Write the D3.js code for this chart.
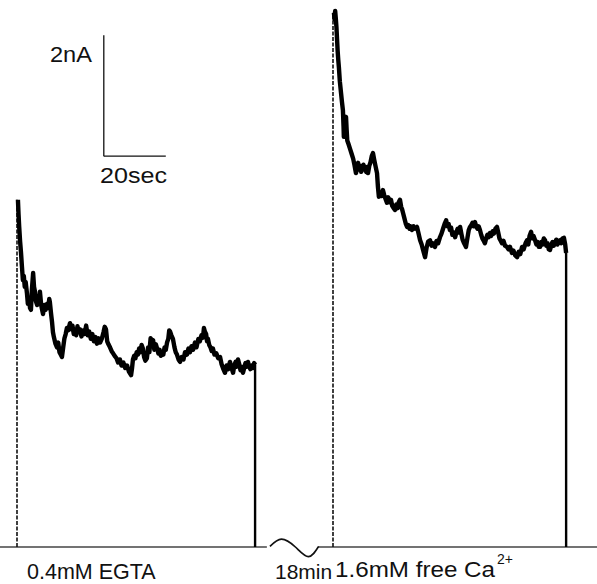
<!DOCTYPE html>
<html>
<head>
<meta charset="utf-8">
<script src="https://cdn.jsdelivr.net/npm/d3@7"></script>
<style>
  body { margin: 0; background: #fff; }
  svg { display: block; }
  text { font-family: "Liberation Sans", Arial, sans-serif; fill: #111; }
</style>
</head>
<body>
<svg id="chart" width="597" height="584"></svg>
<script>
// current traces: time in sec from onset, current in nA above baseline
const egtaTime = [0.3, 0.5, 0.7, 1.0, 1.3, 1.6, 1.9, 2.2, 2.5, 2.8, 3.2, 3.5, 3.9, 4.2, 4.5, 4.8, 5.2, 5.5, 5.8, 6.1, 6.5, 6.8, 7.1, 7.4, 7.8, 8.1, 8.4, 8.8, 9.2, 9.7, 10.1, 10.4, 10.6, 11.0, 11.3, 11.6, 11.9, 12.4, 12.9, 13.3, 13.7, 14.1, 14.5, 14.9, 15.3, 15.7, 16.1, 16.5, 17.1, 17.5, 17.9, 18.3, 18.7, 19.1, 19.5, 19.9, 20.3, 20.8, 21.3, 21.8, 22.3, 22.8, 23.3, 23.8, 24.3, 24.8, 25.3, 25.8, 26.3, 26.8, 27.4, 27.9, 28.3, 28.7, 29.1, 29.5, 30.0, 30.5, 31.0, 31.5, 32.1, 32.6, 33.2, 33.7, 34.3, 34.9, 35.5, 36.1, 36.8, 37.1, 37.4, 37.8, 38.2, 38.6, 39.0, 39.4, 39.8, 40.2, 40.6, 41.0, 41.4, 41.9, 42.3, 42.7, 43.1, 43.5, 43.9, 44.3, 44.8, 45.2, 45.6, 46.0, 46.4, 46.8, 47.2, 47.6, 48.0, 48.4, 48.8, 49.1, 49.4, 49.8, 50.3, 50.8, 51.2, 51.6, 52.1, 52.6, 53.1, 53.7, 54.2, 54.8, 55.3, 55.8, 56.3, 56.8, 57.4, 57.9, 58.5, 59.0, 59.5, 60.0, 60.3, 60.6, 61.0, 61.3, 61.6, 62.0, 62.4, 62.8, 63.2, 63.7, 64.3, 64.9, 65.5, 66.0, 66.5, 67.1, 67.6, 68.1, 68.7, 69.2, 69.7, 70.1, 70.5, 70.9, 71.3, 71.7, 72.1, 72.5, 72.9, 73.3, 73.7, 74.1, 74.5, 74.9, 75.3, 75.7, 76.1, 76.5, 76.8];
const egtaCurrent = [5.74, 5.50, 5.30, 5.05, 4.86, 4.63, 4.41, 4.48, 4.30, 4.38, 4.20, 4.02, 4.10, 3.95, 3.92, 4.25, 4.53, 4.30, 4.22, 4.06, 4.00, 4.15, 4.05, 4.22, 4.00, 3.92, 3.85, 4.00, 3.92, 4.02, 3.95, 4.10, 4.05, 3.85, 3.72, 3.55, 3.47, 3.36, 3.30, 3.38, 3.22, 3.18, 3.14, 3.30, 3.45, 3.52, 3.62, 3.58, 3.70, 3.60, 3.66, 3.52, 3.58, 3.50, 3.65, 3.55, 3.60, 3.48, 3.58, 3.52, 3.66, 3.50, 3.56, 3.44, 3.52, 3.40, 3.47, 3.36, 3.45, 3.38, 3.45, 3.55, 3.64, 3.60, 3.40, 3.35, 3.30, 3.24, 3.20, 3.16, 3.12, 3.05, 3.10, 3.00, 3.05, 2.96, 3.00, 2.90, 2.84, 2.95, 3.10, 3.16, 3.12, 3.22, 3.18, 3.28, 3.22, 3.34, 3.28, 3.14, 3.08, 3.12, 3.30, 3.22, 3.45, 3.38, 3.42, 3.26, 3.35, 3.28, 3.20, 3.26, 3.16, 3.22, 3.18, 3.30, 3.26, 3.38, 3.44, 3.58, 3.56, 3.50, 3.44, 3.30, 3.22, 3.18, 3.10, 3.06, 3.14, 3.10, 3.22, 3.18, 3.28, 3.22, 3.32, 3.26, 3.38, 3.30, 3.44, 3.40, 3.50, 3.46, 3.62, 3.56, 3.52, 3.40, 3.44, 3.34, 3.30, 3.24, 3.28, 3.18, 3.20, 3.12, 3.14, 3.02, 2.95, 2.88, 3.00, 2.94, 3.06, 2.96, 2.88, 3.00, 3.06, 2.98, 3.10, 3.02, 2.92, 2.98, 2.88, 2.96, 3.04, 2.98, 3.06, 2.98, 2.94, 3.00, 2.96, 3.04, 3.01];

const caTime = [0.3, 0.5, 0.7, 0.9, 1.1, 1.3, 1.5, 1.7, 1.9, 2.2, 2.6, 2.9, 3.2, 3.4, 3.5, 3.8, 4.0, 4.2, 4.4, 4.6, 5.0, 5.5, 6.0, 6.5, 6.9, 7.4, 7.8, 8.1, 8.5, 8.8, 9.1, 9.4, 9.8, 10.3, 10.7, 11.0, 11.3, 11.7, 12.1, 12.5, 12.9, 13.3, 13.7, 14.2, 14.5, 14.8, 15.2, 15.6, 16.1, 16.5, 16.9, 17.4, 17.8, 18.2, 18.7, 19.1, 19.6, 20.0, 20.4, 20.8, 21.2, 21.6, 22.0, 22.3, 22.6, 23.0, 23.5, 23.9, 24.3, 24.7, 25.1, 25.5, 26.0, 26.5, 27.1, 27.6, 28.1, 28.6, 29.1, 29.7, 30.2, 30.7, 31.3, 31.8, 32.3, 32.9, 33.4, 33.9, 34.5, 35.0, 35.5, 36.0, 36.5, 36.9, 37.3, 37.7, 38.1, 38.5, 38.9, 39.4, 39.8, 40.2, 40.6, 41.0, 41.4, 41.8, 42.3, 42.9, 43.4, 43.8, 44.2, 44.6, 45.0, 45.4, 45.8, 46.2, 46.6, 47.0, 47.4, 47.8, 48.2, 48.6, 49.0, 49.4, 49.8, 50.2, 50.6, 51.0, 51.5, 51.9, 52.4, 52.9, 53.3, 53.7, 54.1, 54.5, 55.0, 55.5, 56.1, 56.6, 57.1, 57.7, 58.2, 58.8, 59.4, 59.9, 60.4, 61.0, 61.5, 62.1, 62.6, 63.0, 63.4, 63.9, 64.3, 64.7, 65.2, 65.6, 66.0, 66.4, 66.8, 67.2, 67.6, 68.0, 68.4, 68.8, 69.2, 69.6, 70.0, 70.4, 70.8, 71.2, 71.6, 72.0, 72.4, 72.8, 73.2, 73.6, 74.0, 74.5, 74.9, 75.2];
const caCurrent = [8.83, 8.72, 8.86, 8.74, 8.60, 8.40, 8.20, 8.05, 7.93, 7.70, 7.50, 7.35, 7.22, 6.95, 6.78, 6.95, 7.05, 7.11, 6.90, 6.72, 6.66, 6.58, 6.50, 6.42, 6.32, 6.18, 6.26, 6.35, 6.24, 6.30, 6.20, 6.25, 6.32, 6.26, 6.20, 6.28, 6.18, 6.30, 6.36, 6.46, 6.51, 6.40, 6.30, 6.18, 5.95, 5.79, 5.86, 5.80, 5.90, 5.82, 5.76, 5.69, 5.78, 5.70, 5.74, 5.64, 5.60, 5.57, 5.66, 5.60, 5.70, 5.74, 5.62, 5.58, 5.52, 5.44, 5.34, 5.29, 5.32, 5.26, 5.30, 5.24, 5.30, 5.26, 5.29, 5.18, 5.07, 5.00, 4.90, 4.79, 4.95, 5.05, 5.07, 4.98, 5.02, 4.96, 5.06, 5.02, 5.12, 5.18, 5.26, 5.34, 5.40, 5.30, 5.34, 5.24, 5.28, 5.16, 5.20, 5.12, 5.20, 5.26, 5.20, 5.29, 5.18, 5.08, 5.02, 4.96, 5.12, 5.24, 5.29, 5.32, 5.36, 5.30, 5.37, 5.30, 5.26, 5.30, 5.24, 5.16, 5.10, 5.06, 5.02, 5.10, 5.16, 5.12, 5.19, 5.14, 5.22, 5.18, 5.26, 5.29, 5.20, 5.10, 5.06, 5.02, 5.06, 4.98, 4.96, 4.92, 4.96, 4.86, 4.90, 4.82, 4.79, 4.88, 4.84, 4.96, 4.92, 5.02, 5.07, 5.00, 5.14, 5.21, 5.10, 5.14, 5.07, 5.00, 5.04, 4.96, 4.96, 5.04, 5.00, 5.10, 5.07, 4.98, 5.02, 4.92, 4.91, 4.98, 5.04, 4.98, 5.02, 5.08, 5.00, 5.06, 5.07, 5.02, 5.10, 5.11, 5.00, 4.86];

const labels = ["0.4mM EGTA", "1.6mM free Ca", "2+"];
const gapLabel = "18min";
const scaleBar = { sec: 20, nA: 2 };

const svg = d3.select("#chart");

// shared current scale, one time scale per recording
const y = d3.scaleLinear().domain([0, 9]).range([547, 2.5]);
const xEgta = d3.scaleLinear().domain([0, 80]).range([17, 17 + 80 * 3.1]);
const xCa = d3.scaleLinear().domain([0, 80]).range([333, 333 + 80 * 3.1]);

// baseline pieces
const base = svg.append("g").attr("stroke", "#444").attr("stroke-width", 1.4).attr("fill", "none");
base.append("line").attr("x1", xEgta(-5.5)).attr("x2", xEgta(80.6)).attr("y1", y(0)).attr("y2", y(0));
base.append("line").attr("x1", xCa(-4.8)).attr("x2", xCa(85.2)).attr("y1", y(0)).attr("y2", y(0));

// break symbol between the two recordings
const wave = [[81.6, 0.01], [85.3, 0.13], [89.8, 0.0], [94.0, -0.16], [97.3, 0.01]];
base.append("path")
  .attr("stroke", "#111")
  .attr("stroke-width", 1.7)
  .attr("d", d3.line().x(d => xEgta(d[0])).y(d => y(d[1])).curve(d3.curveNatural)(wave));

function drawTrace(times, vals, x) {
  const pts = times.map((t, i) => [t, vals[i]]);
  const g = svg.append("g");
  // onset edge, dotted
  g.append("line")
    .attr("x1", x(0)).attr("x2", x(0))
    .attr("y1", y(0)).attr("y2", y(vals[0]))
    .attr("stroke", "#111").attr("stroke-width", 1.6)
    .attr("stroke-dasharray", "4,1.5");
  g.append("path")
    .attr("fill", "none")
    .attr("stroke", "#000")
    .attr("stroke-width", 4.4)
    .attr("stroke-linejoin", "round")
    .attr("d", d3.line().x(d => x(d[0])).y(d => y(d[1]))(pts));
  // offset edge
  const last = pts[pts.length - 1];
  g.append("line")
    .attr("x1", x(last[0])).attr("x2", x(last[0]))
    .attr("y1", y(last[1])).attr("y2", y(0))
    .attr("stroke", "#000").attr("stroke-width", 2.4);
}

drawTrace(egtaTime, egtaCurrent, xEgta);
drawTrace(caTime, caCurrent, xCa);

// scale bar
const sbX = xEgta(28), sbY = y(6.46);
const sb = svg.append("g").attr("stroke", "#111").attr("stroke-width", 1.3);
sb.append("line").attr("x1", sbX).attr("x2", sbX).attr("y1", sbY).attr("y2", y(6.46 + scaleBar.nA));
sb.append("line").attr("x1", sbX).attr("x2", xEgta(28 + scaleBar.sec)).attr("y1", sbY).attr("y2", sbY);

svg.append("text").attr("x", 50).attr("y", 62).attr("font-size", 22)
  .attr("textLength", 42).attr("lengthAdjust", "spacingAndGlyphs").text(scaleBar.nA + "nA");
svg.append("text").attr("x", 100).attr("y", 183).attr("font-size", 22)
  .attr("textLength", 67).attr("lengthAdjust", "spacingAndGlyphs").text(scaleBar.sec + "sec");

// condition labels
svg.append("text").attr("x", 27).attr("y", 579).attr("font-size", 21.5).text(labels[0]);
svg.append("text").attr("x", 275).attr("y", 579).attr("font-size", 21).text(gapLabel);
svg.append("text").attr("x", 335).attr("y", 577).attr("font-size", 21.5)
  .attr("textLength", 160).attr("lengthAdjust", "spacingAndGlyphs").text(labels[1]);
svg.append("text").attr("x", 497).attr("y", 564).attr("font-size", 14).text(labels[2]);
</script>
</body>
</html>
